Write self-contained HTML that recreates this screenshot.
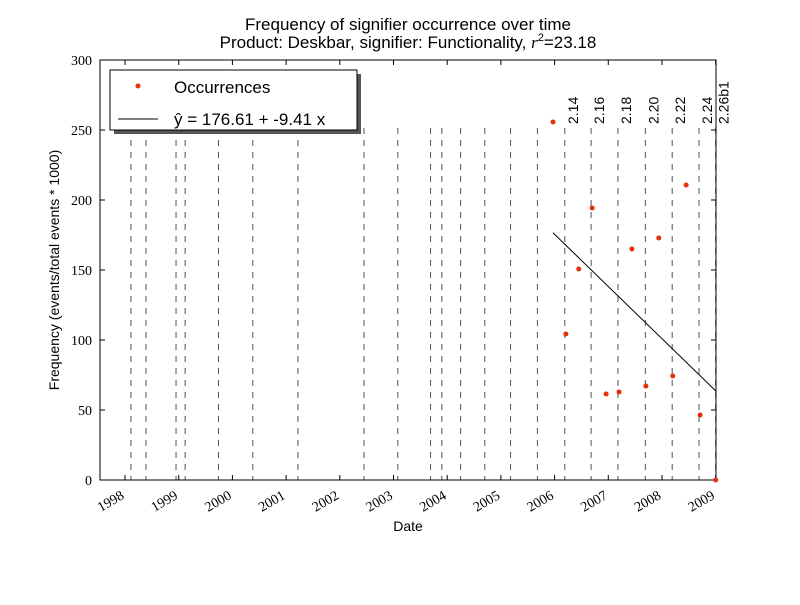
<!DOCTYPE html>
<html><head><meta charset="utf-8"><style>
body{margin:0;background:#fff}
svg text{font-family:"Liberation Sans",sans-serif}
</style></head><body>
<svg id="c" width="800" height="600" xmlns="http://www.w3.org/2000/svg">
<rect width="800" height="600" fill="#fff"/>
<text x="408" y="30" font-size="17" text-anchor="middle">Frequency of signifier occurrence over time</text>
<text x="408" y="48" font-size="17" text-anchor="middle">Product: Deskbar, signifier: Functionality, <tspan style="font-family:'Liberation Serif',serif" font-style="italic">r</tspan><tspan font-size="11" dy="-7">2</tspan><tspan dy="7">=23.18</tspan></text>
<g id="plot"></g>
<text x="408" y="531" font-size="14" text-anchor="middle">Date</text>
<text transform="translate(59,270) rotate(-90)" font-size="14" text-anchor="middle">Frequency (events/total events * 1000)</text>
</svg>
<script>
const yearTicks=[1998,1999,2000,2001,2002,2003,2004,2005,2006,2007,2008,2009];
const yTicks=[0,50,100,150,200,250,300];
const releaseDates=[1998.11,1998.39,1998.95,1999.12,1999.74,2000.38,2001.22,2002.45,2003.08,2003.69,2003.90,2004.25,2004.70,2005.18,2005.68,2006.19,2006.68,2007.18,2007.69,2008.19,2008.69,2009.0];
const releaseLabels=["","","","","","","","","","","","","","","","2.14","2.16","2.18","2.20","2.22","2.24","2.26b1"];
const dates=[2005.97,2006.21,2006.45,2006.70,2006.96,2007.20,2007.44,2007.70,2007.94,2008.20,2008.45,2008.71,2009.0];
const values=[255.7,104.3,150.7,194.3,61.4,62.9,165,67.1,172.9,74.3,210.7,46.4,0];
const intercept=176.61, slope=-9.41;

const L=100,R=716,T=60,B=480,x0=1997.534,x1=2009.006;
const sx=v=>L+(v-x0)/(x1-x0)*(R-L);
const sy=v=>B-v/300*(B-T);
const g=document.getElementById('plot');
const NS='http://www.w3.org/2000/svg';
const SERIF="font-family:'Liberation Serif','DejaVu Serif',serif";
function mk(t,a,p){const e=document.createElementNS(NS,t);for(const k in a)e.setAttribute(k,a[k]);(p||g).appendChild(e);return e;}

releaseDates.forEach((d,i)=>{
  const l=mk('line',{x1:sx(d),x2:sx(d),y1:128,y2:B,stroke:'#4a5068','stroke-width':1,'stroke-dasharray':'6,6'});
  
  
  if(releaseLabels[i]){
    const t=mk('text',{transform:`translate(${sx(d)+13},${124}) rotate(-90)`,'font-size':14});
    t.textContent=releaseLabels[i];
    
    
  }
});
const fr=mk('rect',{x:L,y:T,width:R-L,height:B-T,fill:'none',stroke:'#000','stroke-width':1});


yTicks.forEach(v=>{
  mk('line',{x1:L,x2:L+5,y1:sy(v),y2:sy(v),stroke:'#000'});
  mk('line',{x1:R,x2:R-5,y1:sy(v),y2:sy(v),stroke:'#000'});
  const t=mk('text',{x:L-8,y:sy(v)+5,'font-size':14,'text-anchor':'end',style:SERIF});
  t.textContent=v;
  
  
});
yearTicks.forEach(y=>{
  const x=sx(y);
  mk('line',{x1:x,x2:x,y1:B,y2:B-5,stroke:'#000'});
  mk('line',{x1:x,x2:x,y1:T,y2:T+5,stroke:'#000'});
  const t=mk('text',{transform:`translate(${x},${B+18}) rotate(-30)`,'font-size':14,'text-anchor':'end',style:SERIF});
  t.textContent=y;
  
  
});
const n=dates.length;
const fl=mk('line',{x1:sx(dates[0]),y1:sy(intercept),x2:sx(dates[n-1]),y2:sy(intercept+slope*(n-1)),stroke:'#000','stroke-width':1});


dates.forEach((d,i)=>{
  const c=mk('circle',{cx:sx(d),cy:sy(values[i]),r:2.5,fill:'#e8300a'});
  
  
});
const lg=mk('g',{});


mk('rect',{x:114,y:74,width:247,height:60,fill:'#555'},lg);
mk('rect',{x:110,y:70,width:247,height:60,fill:'#fff',stroke:'#000'},lg);
mk('circle',{cx:138,cy:86,r:2.5,fill:'#e8300a'},lg);
mk('line',{x1:118,x2:158,y1:119,y2:119,stroke:'#000'},lg);
let t1=mk('text',{x:174,y:93,'font-size':17},lg);t1.textContent='Occurrences';


let t2=mk('text',{x:174,y:125,'font-size':17},lg);t2.textContent='ŷ = 176.61 + -9.41 x';


</script>
</body></html>
